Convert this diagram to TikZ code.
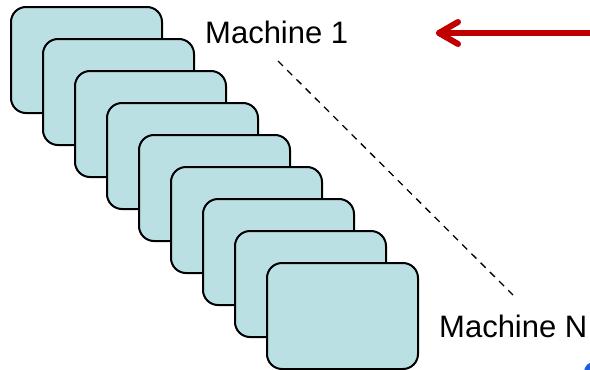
\documentclass[tikz,border=0pt]{standalone}
\usepackage{fontspec}
\setmainfont{Liberation Sans}
\definecolor{boxfill}{HTML}{BBE0E3}
\definecolor{arrowred}{HTML}{C00000}
\definecolor{dotblue}{HTML}{1E5EE6}
\begin{document}
\begin{tikzpicture}[x=1pt,y=-1pt,
  machine/.style={draw=black,line width=2pt,fill=boxfill,rounded corners=15pt},
  label/.style={font=\fontsize{31}{34}\selectfont,inner sep=0pt,anchor=base west},
  guide/.style={dashed,line width=1.3pt,dash pattern=on 7pt off 6pt},
  pointer/.style={arrowred,line width=6pt,line cap=round,line join=round}]
\useasboundingbox (0,0) rectangle (590,370);
\clip (0,0) rectangle (590,370);
% stack of machines, each shifted down-right
\foreach \i in {0,...,8}{
  \draw[machine] (11+32*\i,7+32*\i) rectangle (162+32*\i,113+32*\i);
}
\node[label] (m1) at (205,43) {Machine 1};
\node[label] (mN) at (439,337) {Machine N};
% dotted guide between first and last machine
\coordinate (gtop) at (278,61);
\coordinate (gbot) at (513,295);
\draw[guide] (gtop) -- (gbot);
% red pointer arrow
\coordinate (tail) at (600,33);
\coordinate (tip) at (439,33);
\draw[pointer] (tail) -- (tip);
\draw[pointer] ([shift={(19,-11)}]tip) -- (tip) -- ([shift={(19,11)}]tip);
% small blue mark at the corner
\fill[dotblue] (594,372) circle (10);
\end{tikzpicture}
\end{document}
